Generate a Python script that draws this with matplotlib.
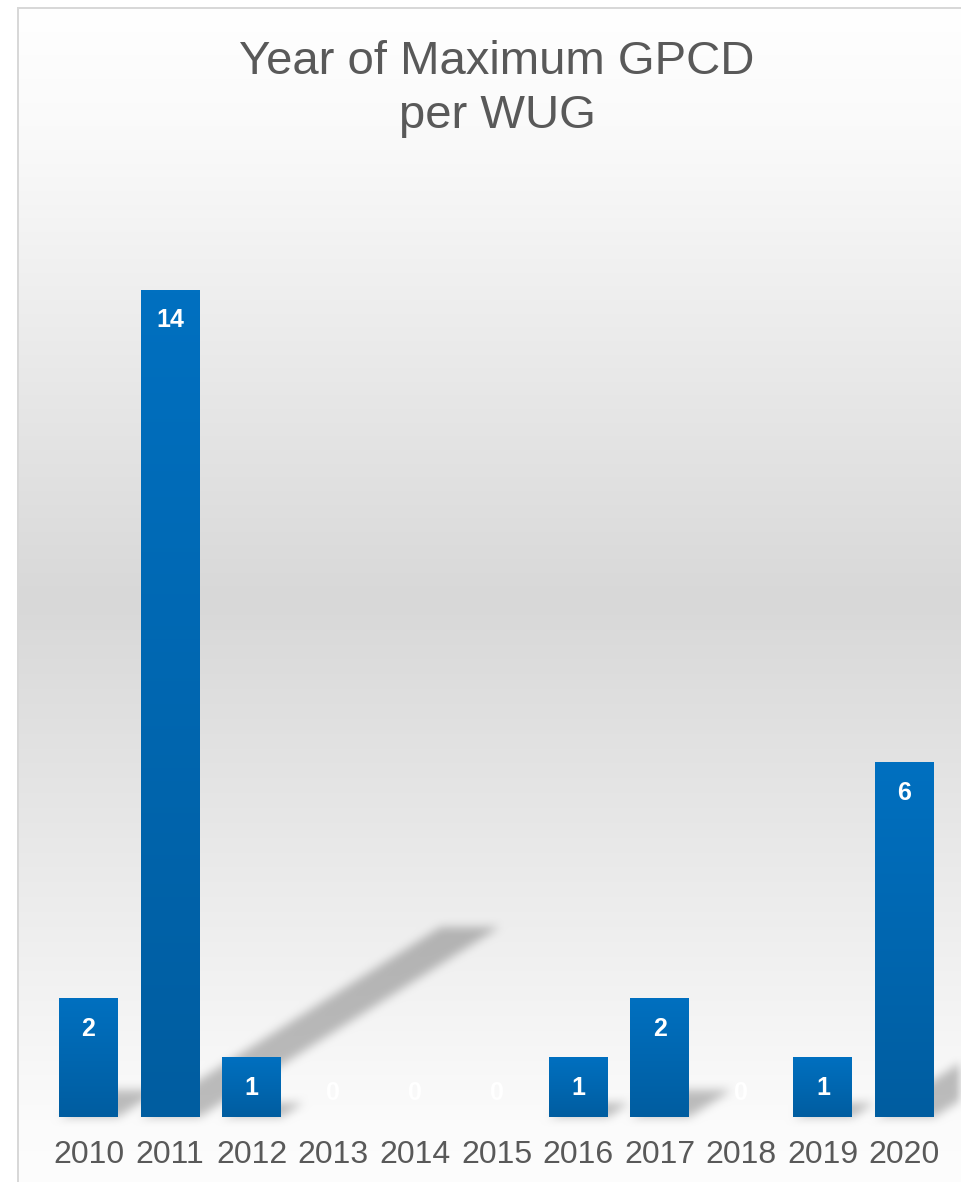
import numpy as np
import matplotlib
matplotlib.use("Agg")
import matplotlib.pyplot as plt
from matplotlib.colors import LinearSegmentedColormap

plt.rcParams['font.family'] = ['Liberation Sans', 'DejaVu Sans']

# data
years = ['2010', '2011', '2012', '2013', '2014', '2015',
         '2016', '2017', '2018', '2019', '2020']
counts = [2, 14, 1, 0, 0, 0, 1, 2, 0, 1, 6]

W, H = 961, 1182
fig = plt.figure(figsize=(W / 100, H / 100), dpi=100)

# background axes (gradient + shadows) under the chart
bg = fig.add_axes([0, 0, 1, 1], zorder=0)
ax = fig.add_axes([47.7 / W, 65 / H, (945.3 - 47.7) / W, 945 / H], zorder=1)
ax.set_xlim(-0.5, len(years) - 0.5)
ax.set_ylim(0, 16)
bar_w = 0.723
x = np.arange(len(years))

# perspective shadows from the bars, in pixel space
yy, xx = np.mgrid[0:H, 0:W] + 0.5
shade = np.zeros((H, W))
for i, v in enumerate(counts):
    if v == 0:
        continue
    (xl, yb), (xr, yt) = ax.transData.transform([(i - bar_w / 2, 0), (i + bar_w / 2, v)])
    h = yt - yb
    yb_img = H - yb
    dx, dy = 0.363 * h, 0.23 * h
    t = (yb_img - yy) / dy
    xs = xx - t * dx
    inside = (t >= 0) & (t <= 1) & (xs >= xl) & (xs <= xr)
    shade = np.maximum(shade, inside.astype(float))

def box_blur(a, r):
    k = np.ones(2 * r + 1) / (2 * r + 1)
    a = np.apply_along_axis(lambda m: np.convolve(m, k, mode='same'), 0, a)
    a = np.apply_along_axis(lambda m: np.convolve(m, k, mode='same'), 1, a)
    return a

shade = box_blur(box_blur(shade, 5), 5)

stops_y = [8, 150, 600, 1120, 1182]
stops_v = [255, 249, 216, 251, 253]
col = np.interp(yy[:, 0], stops_y, stops_v) / 255
img = np.ones((H, W, 3)) * col[:, None, None]
img *= (1 - 0.25 * shade)[:, :, None]
img[:9, :] = 1
img[:, :19] = 1
img[7:9, 17:] = 0.85
img[7:, 17:19] = 0.85

bg.imshow(img, extent=(0, W, H, 0), aspect='auto', interpolation='nearest')
bg.set_xlim(0, W)
bg.set_ylim(H, 0)
bg.axis('off')

# bars with vertical gradient
cmap = LinearSegmentedColormap.from_list('bar', ['#005DA0', '#0070C0'])
bars = ax.bar(x, counts, width=bar_w, color='none', edgecolor='none')
grad = np.linspace(0, 1, 256).reshape(-1, 1)
for b in bars:
    if b.get_height() == 0:
        continue
    ax.imshow(grad, cmap=cmap, origin='lower', aspect='auto', zorder=2,
              extent=(b.get_x(), b.get_x() + b.get_width(), 0, b.get_height()))

for i, v in enumerate(counts):
    off = -37 if v > 0 else 17
    ax.annotate(str(v), (i, v), xytext=(0, off), textcoords='offset pixels',
                ha='center', va='baseline', color='white',
                fontsize=18, fontweight='bold', zorder=3)

ax.set_xlim(-0.5, len(years) - 0.5)
ax.set_ylim(0, 16)
ax.set_xticks(x, years)
ax.set_yticks([])
ax.tick_params(axis='x', length=0, pad=16.5, labelsize=23, labelcolor='#595959')
for s in ax.spines.values():
    s.set_visible(False)
ax.patch.set_alpha(0)

fig.text(497 / W, 1 - 74 / H, 'Year of Maximum GPCD', ha='center', va='baseline',
         fontsize=34, color='#595959')
fig.text(497 / W, 1 - 128 / H, 'per WUG', ha='center', va='baseline',
         fontsize=34, color='#595959')

fig.savefig('out.png', dpi=100)
